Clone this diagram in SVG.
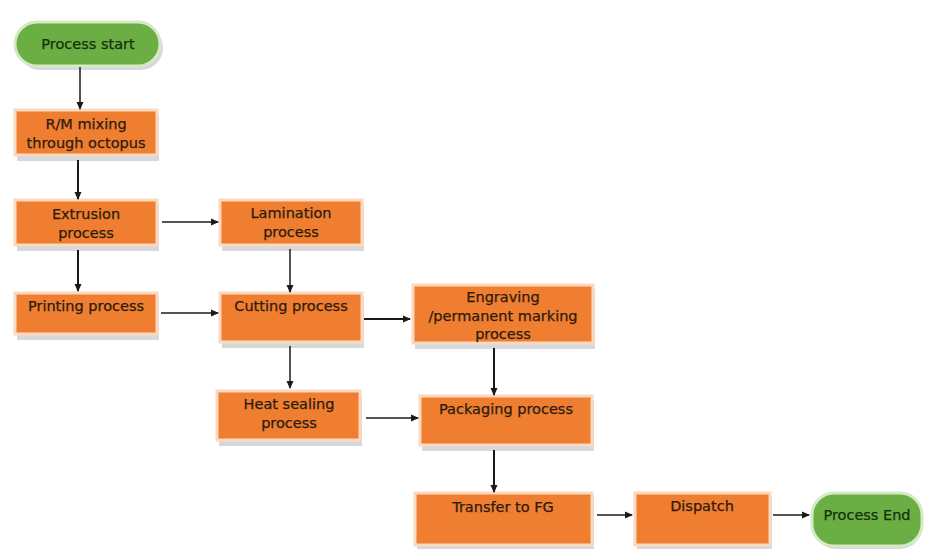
<svg xmlns="http://www.w3.org/2000/svg" width="926" height="553" viewBox="0 0 926 553">
<style>
  .box { fill: #EF7E30; stroke: #FAD9BE; stroke-width: 3; }
  .pill { fill: #6BAF44; stroke: #D3EAC3; stroke-width: 3; }
  .shadow { fill: #C4C7D0; opacity: 0.7; }
  .t { font-family: "DejaVu Sans", Verdana, sans-serif; font-size: 14.5px; fill: #2E1B0E; stroke: #2E1B0E; stroke-width: 0.25; text-anchor: middle; }
  .tg { font-family: "DejaVu Sans", Verdana, sans-serif; font-size: 14.5px; fill: #16300C; stroke: #16300C; stroke-width: 0.25; text-anchor: middle; }
  .c { stroke: #1A1A1A; stroke-width: 1.5; fill: none; marker-end: url(#ah); }
  .ct { stroke: #1A1A1A; stroke-width: 2; fill: none; marker-end: url(#ah); }
</style>
<defs>
  <marker id="ah" markerWidth="8" markerHeight="8" refX="7" refY="4" orient="auto" markerUnits="userSpaceOnUse">
    <path d="M0,0.5 L8,4 L0,7.5 Z" fill="#1A1A1A"/>
  </marker>
</defs>
<rect width="926" height="553" fill="#FFFFFF"/>

<g id="start">
  <rect class="shadow" x="18" y="26" width="145" height="44" rx="22"/>
  <rect class="pill" x="15" y="22" width="145" height="44" rx="22"/>
  <text class="tg" x="88" y="49">Process start</text>
</g>
<g id="rm">
  <rect class="shadow" x="17" y="114" width="142" height="47"/>
  <rect class="box" x="15" y="110" width="142" height="45"/>
  <text class="t" x="86" y="129">R/M mixing</text>
  <text class="t" x="86" y="148">through octopus</text>
</g>
<g id="extrusion">
  <rect class="shadow" x="17" y="204" width="142" height="47"/>
  <rect class="box" x="15" y="200" width="142" height="45"/>
  <text class="t" x="86" y="219">Extrusion</text>
  <text class="t" x="86" y="238">process</text>
</g>
<g id="lamination">
  <rect class="shadow" x="222" y="204" width="142" height="47"/>
  <rect class="box" x="220" y="200" width="142" height="45"/>
  <text class="t" x="291" y="218">Lamination</text>
  <text class="t" x="291" y="237">process</text>
</g>
<g id="printing">
  <rect class="shadow" x="17" y="297" width="142" height="43"/>
  <rect class="box" x="15" y="293" width="142" height="41"/>
  <text class="t" x="86" y="311">Printing process</text>
</g>
<g id="cutting">
  <rect class="shadow" x="222" y="297" width="142" height="51"/>
  <rect class="box" x="220" y="293" width="142" height="49"/>
  <text class="t" x="291" y="311">Cutting process</text>
</g>
<g id="engraving">
  <rect class="shadow" x="415" y="289" width="180" height="60"/>
  <rect class="box" x="413" y="285" width="180" height="58"/>
  <text class="t" x="503" y="302">Engraving</text>
  <text class="t" x="503" y="321">/permanent marking</text>
  <text class="t" x="503" y="339">process</text>
</g>
<g id="heat">
  <rect class="shadow" x="219" y="395" width="143" height="51"/>
  <rect class="box" x="217" y="391" width="143" height="49"/>
  <text class="t" x="289" y="409">Heat sealing</text>
  <text class="t" x="289" y="428">process</text>
</g>
<g id="packaging">
  <rect class="shadow" x="422" y="400" width="172" height="51"/>
  <rect class="box" x="420" y="396" width="172" height="49"/>
  <text class="t" x="506" y="414">Packaging process</text>
</g>
<g id="transfer">
  <rect class="shadow" x="417" y="497" width="177" height="52"/>
  <rect class="box" x="415" y="493" width="177" height="52"/>
  <text class="t" x="503" y="512">Transfer to FG</text>
</g>
<g id="dispatch">
  <rect class="shadow" x="637" y="497" width="135" height="52"/>
  <rect class="box" x="635" y="493" width="135" height="52"/>
  <text class="t" x="702" y="511">Dispatch</text>
</g>
<g id="end">
  <rect class="shadow" x="814" y="497" width="108" height="52" rx="22"/>
  <rect class="pill" x="812" y="493" width="110" height="53" rx="22"/>
  <text class="tg" x="867" y="520">Process End</text>
</g>

<g id="connectors">
  <line class="c" x1="80" y1="67" x2="80" y2="109"/>
  <line class="ct" x1="78" y1="160" x2="78" y2="199"/>
  <line class="c" x1="162" y1="222" x2="218" y2="222"/>
  <line class="ct" x1="78" y1="250" x2="78" y2="291"/>
  <line class="c" x1="290" y1="249" x2="290" y2="292"/>
  <line class="c" x1="161" y1="313" x2="218" y2="313"/>
  <line class="ct" x1="364" y1="319" x2="410" y2="319"/>
  <line class="c" x1="290" y1="346" x2="290" y2="388"/>
  <line class="ct" x1="494" y1="348" x2="494" y2="395"/>
  <line class="c" x1="366" y1="418" x2="418" y2="418"/>
  <line class="ct" x1="494" y1="450" x2="494" y2="492"/>
  <line class="c" x1="597" y1="515" x2="632" y2="515"/>
  <line class="c" x1="773" y1="515" x2="809" y2="515"/>
</g>
</svg>
